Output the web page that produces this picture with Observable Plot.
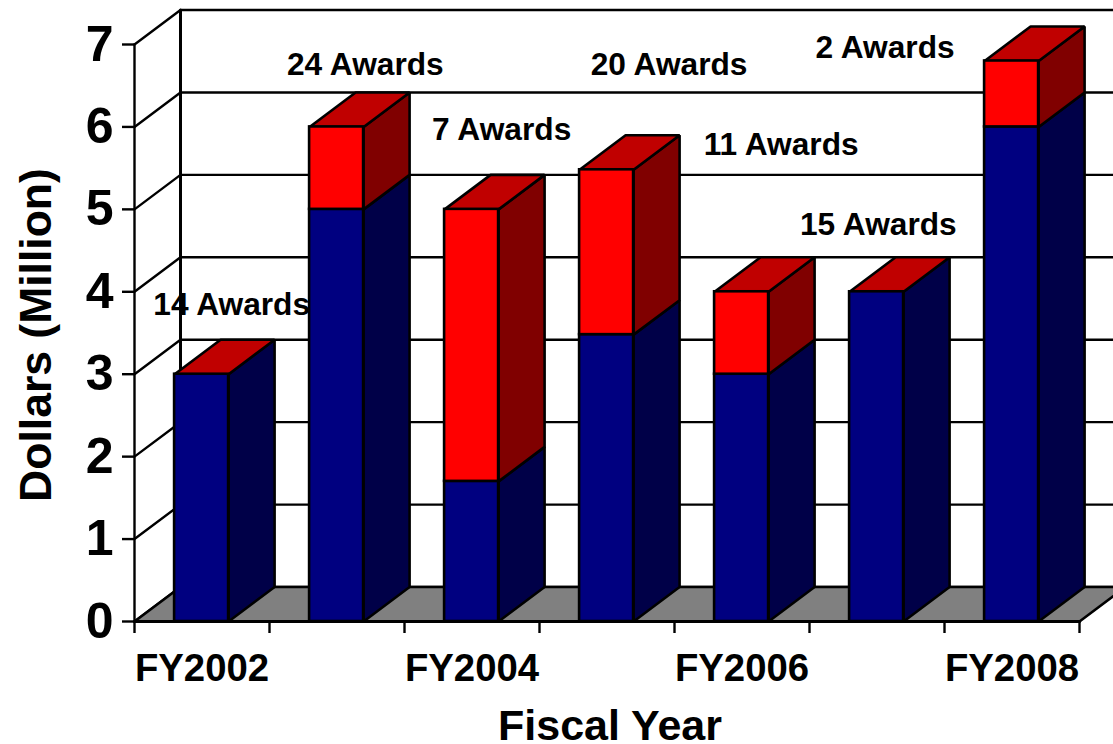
<!DOCTYPE html>
<html><head><meta charset="utf-8">
<script src="https://cdn.jsdelivr.net/npm/d3@7"></script>
<script src="https://cdn.jsdelivr.net/npm/@observablehq/plot@0.6"></script>
<style>html,body{margin:0;padding:0;background:#fff;overflow:hidden}svg{display:block;max-width:none!important}</style>
</head><body><div id="chart"></div>
<script>
const years = ["FY2002","FY2003","FY2004","FY2005","FY2006","FY2007","FY2008"];
const blue = [3, 5, 1.7, 3.48, 3, 4, 6];
const red = [0, 1, 3.3, 2, 1, 0, 0.8];
const awardText = ["14 Awards","24 Awards","7 Awards","20 Awards","11 Awards","15 Awards","2 Awards"];
const awardX = [0.72, 1.71, 2.72, 3.96, 4.79, 5.51, 5.56];
const awardY = [3.84, 6.75, 5.97, 6.75, 5.78, 4.81, 6.96];
const yTicks = [0,1,2,3,4,5,6,7];

// 3-D projection offset of the chart depth, in data units
const depthX = 46/135, depthY = 34.5/82.5;
const barLo = 0.297, barHi = 0.697;
const n = years.length;

const poly = (id, pts) => [...pts, pts[0]].map(([x,y]) => ({id,x,y}));
const seg = years.map((_,i)=>({i, x1:i+barLo, x2:i+barHi, base:blue[i], top:blue[i]+red[i]}));
const sideBlue = seg.flatMap(s=>poly(s.i,[[s.x2,0],[s.x2+depthX,depthY],[s.x2+depthX,s.base+depthY],[s.x2,s.base]]));
const sideRed = seg.filter(s=>s.top>s.base).flatMap(s=>poly(s.i,[[s.x2,s.base],[s.x2+depthX,s.base+depthY],[s.x2+depthX,s.top+depthY],[s.x2,s.top]]));
const topFace = seg.flatMap(s=>poly(s.i,[[s.x1,s.top],[s.x2,s.top],[s.x2+depthX,s.top+depthY],[s.x1+depthX,s.top+depthY]]));
const floor = poly(0,[[0,0],[n,0],[n+depthX,depthY],[depthX,depthY]]);
const grid = yTicks.flatMap(v=>[[0,v],[depthX,v+depthY],[n+depthX,v+depthY]].map(([x,y])=>({id:v,x,y})));
const wall = [[depthX,depthY],[depthX,yTicks.at(-1)+depthY]].map(([x,y])=>({x,y}));
const leftAxis = [[0,0],[0,yTicks.at(-1)]].map(([x,y])=>({x,y}));
const frontAxis = [[0,0],[n,0]].map(([x,y])=>({x,y}));
const awards = awardText.map((t,i)=>({t,x:awardX[i],y:awardY[i]}));
const font = "'Liberation Sans', Arial, sans-serif";
const edge = {x:"x",y:"y",z:"id",stroke:"#000",strokeWidth:2.6,strokeLinejoin:"miter"};

const chart = Plot.plot({
  width:1113, height:744,
  marginLeft:134, marginRight:34, marginTop:44, marginBottom:123,
  style:{fontFamily:font, background:"#fff"},
  x:{domain:[0,n], type:"linear"},
  y:{domain:[0,yTicks.at(-1)]},
  marks:[
    Plot.line(grid,{...edge,strokeWidth:2.4}),
    Plot.line(wall,{x:"x",y:"y",stroke:"#000",strokeWidth:3}),
    Plot.line(floor,{...edge,fill:"#808080"}),
    Plot.line(leftAxis,{x:"x",y:"y",stroke:"#000",strokeWidth:2.4}),
    Plot.line(sideBlue,{...edge,fill:"#000048"}),
    Plot.line(sideRed,{...edge,fill:"#800000"}),
    Plot.line(topFace,{...edge,fill:"#c00000"}),
    Plot.rect(seg,{x1:"x1",x2:"x2",y1:0,y2:"base",fill:"#000080",stroke:"#000",strokeWidth:2.6}),
    Plot.rect(seg.filter(s=>s.top>s.base),{x1:"x1",x2:"x2",y1:"base",y2:"top",fill:"#ff0000",stroke:"#000",strokeWidth:2.6}),
    Plot.line(frontAxis,{x:"x",y:"y",stroke:"#000",strokeWidth:3.2}),
    Plot.axisY({ticks:yTicks,tickSize:12,tickPadding:9,tickFormat:"d",fontSize:50,fontWeight:"bold",label:null,stroke:"#000",strokeWidth:2.4,fill:"#000"}),
    Plot.axisX({ticks:d3.range(n+1),tickSize:12,tickFormat:()=>"",label:null,stroke:"#000",strokeWidth:2.4}),
    Plot.text(years.map((y,i)=>({y,i})).filter(d=>d.i%2===0),{x:d=>d.i+0.5,frameAnchor:"bottom",text:"y",dy:47,fontSize:38.3,fontWeight:"bold",fill:"#000",lineAnchor:"middle"}),
    Plot.text(awards,{x:"x",y:"y",text:"t",fontSize:31.7,fontWeight:"bold",fill:"#000"}),
    Plot.text(["Dollars (Million)"],{frameAnchor:"left",textAnchor:"middle",dx:-98,dy:2,rotate:-90,fontSize:44.5,fontWeight:"bold",fill:"#000"}),
    Plot.text(["Fiscal Year"],{frameAnchor:"bottom",dx:3,dy:105,fontSize:43,fontWeight:"bold",fill:"#000",lineAnchor:"middle"})
  ]
});
document.getElementById("chart").append(chart);
</script></body></html>
